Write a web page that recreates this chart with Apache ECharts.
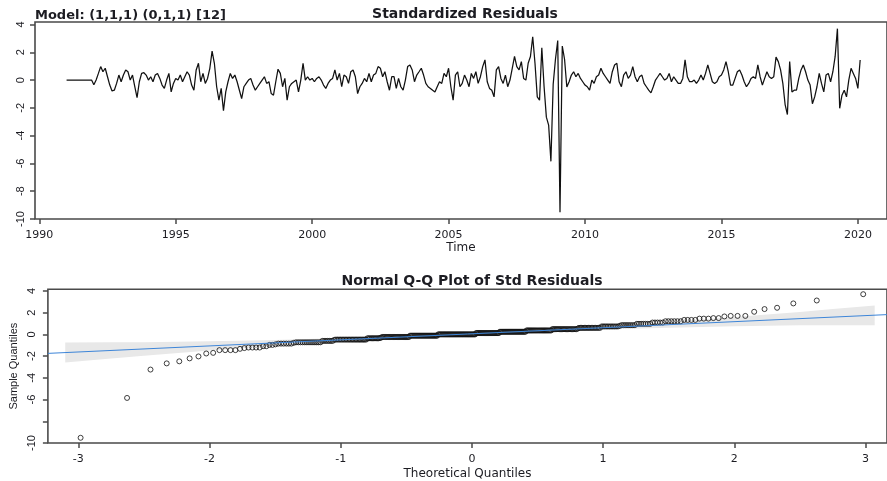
<!DOCTYPE html>
<html>
<head>
<meta charset="utf-8">
<script src="https://cdn.jsdelivr.net/npm/echarts@6/dist/echarts.min.js"></script>
<style>
  html, body { margin: 0; padding: 0; background: #fff; }
  #chart { width: 887px; height: 481px; }
</style>
</head>
<body>
<div id="chart"></div>
<script>
// monthly standardized residuals, Jan 1991 .. Feb 2020 (one row per year)
const startYear = 1991;
const residuals = [
  0, 0, 0, 0, 0, 0, 0, 0, 0, 0, 0, 0,
  -0.34, 0, 0.48, 0.97, 0.6, 0.85, 0.24, -0.36, -0.78, -0.73, -0.24, 0.36,
  -0.12, 0.36, 0.73, 0.6, 0, 0.36, -0.48, -1.26, -0.12, 0.48, 0.53, 0.36,
  0, 0.24, -0.12, 0.36, 0.48, 0.12, -0.36, -0.6, 0, 0.48, -0.85, -0.24,
  0.12, 0, 0.36, -0.12, 0.24, 0.6, 0.36, -0.36, -0.73, 0.73, 1.21, -0.12,
  0.48, -0.24, 0.12, 0.85, 2.08, 1.21, -0.48, -1.45, -0.6, -2.21, -0.85, -0.12,
  0.48, 0.12, 0.36, -0.12, -0.73, -1.33, -0.48, -0.24, 0, 0.12, -0.36, -0.73,
  -0.48, -0.24, 0, 0.24, -0.24, -0.12, -0.97, -1.09, -0.12, 0.78, 0.48, -0.48,
  0.12, -1.45, -0.48, -0.24, -0.12, 0, -0.85, 0, 1.21, 0, 0.24, 0,
  0.12, -0.12, 0.12, 0.24, 0, -0.36, -0.6, -0.24, 0, 0.12, 0.73, 0,
  0.48, -0.48, 0.36, 0.24, -0.24, 0.6, 0.73, 0.24, -0.97, -0.48, -0.24, 0.12,
  -0.12, 0.48, -0.12, 0.36, 0.48, 0.97, 0.85, 0.24, 0.6, -0.12, -0.73, 0.24,
  0.24, -0.6, 0.12, -0.48, -0.73, 0, 0.97, 1.09, 0.73, -0.12, 0.36, 0.6,
  0.85, 0.36, -0.24, -0.48, -0.6, -0.73, -0.85, -0.48, -0.12, -0.24, 0.48, 0.24,
  0.85, -0.48, -1.45, 0.36, 0.6, -0.48, -0.24, 0.36, 0, -0.48, 0.48, 0.12,
  0.6, -0.24, 0.24, 0.97, 1.45, -0.12, -0.6, -0.73, -1.21, 0.73, 0.97, 0.12,
  -0.24, 0.36, -0.48, 0, 0.85, 1.7, 0.97, 0.73, 1.33, 0.12, 0, 1.21,
  1.7, 3.12, 1.21, -1.21, -1.45, 2.33, -0.48, -2.67, -3.24, -5.85, -0.3, 1.5,
  2.85, -9.52, 2.45, 1.5, -0.5, -0.12, 0.36, 0.6, 0.24, 0.48, 0.12, -0.12,
  -0.36, -0.48, -0.73, 0, -0.24, 0.24, 0.36, 0.85, 0.48, 0.24, 0, -0.24,
  0.6, 1.09, 1.21, -0.12, -0.48, 0.36, 0.6, 0.12, 0.36, 0.97, 0.24, -0.12,
  0.24, 0.36, -0.24, -0.48, -0.73, -0.92, -0.48, 0, 0.24, 0.48, 0.24, 0,
  0.12, 0.48, -0.12, 0.24, 0, -0.24, -0.24, 0.12, 1.45, 0.24, -0.12, -0.12,
  0, -0.24, 0, 0.36, 0, 0.48, 1.09, 0.48, -0.12, -0.24, -0.12, 0.24,
  0.36, 0.73, 1.33, 0.6, -0.36, -0.36, 0.12, 0.6, 0.73, 0.36, -0.12, -0.48,
  -0.24, 0.12, 0.24, 0.12, 1.09, 0.24, -0.36, 0.12, 0.6, 0.24, 0.12, 0.24,
  1.65, 1.33, 0.73, -0.24, -1.76, -2.48, 1.33, -0.85, -0.73, -0.73, 0.12, 0.73,
  1.09, 0.6, 0, -0.36, -1.7, -1.21, -0.48, 0.48, -0.24, -0.85, 0.36, 0.48,
  -0.12, 0.6, 1.7, 3.7, -2.03, -1.09, -0.73, -1.21, 0, 0.85, 0.48, 0.12,
  -0.6, 1.45
];

const timeTicks = [1990, 1995, 2000, 2005, 2010, 2015, 2020];
const residTicks = [-10, -8, -6, -4, -2, 0, 2, 4];
const qqXTicks = [-3, -2, -1, 0, 1, 2, 3];
const qqYTicks = [-10, -8, -6, -4, -2, 0, 2, 4];
const qqYLabels = [-10, -6, -4, -2, 0, 2, 4];   // -8 is not labelled in the original

// reference line and grey confidence band
const qqLineX = [-3.232, 3.164];
const qqLineY = [-1.75, 1.82];
const bandX = [-3.1, -2.75, -2.5, -2.0, -1.5, -1.0, 0, 1.0, 1.5, 2.0, 2.5, 2.75, 3.07];
const bandUpper = [-0.75, -0.73, -0.72, -0.64, -0.51, -0.33, 0.15, 0.78, 1.16, 1.59, 2.07, 2.34, 2.66];
const bandLower = [-2.6, -2.23, -1.96, -1.48, -1.05, -0.67, -0.05, 0.44, 0.62, 0.75, 0.83, 0.84, 0.85];

// inverse normal cdf (Acklam), for the theoretical quantiles
function qnorm(p) {
  const a = [-3.969683028665376e+01, 2.209460984245205e+02, -2.759285104469687e+02, 1.383577518672690e+02, -3.066479806614716e+01, 2.506628277459239e+00];
  const b = [-5.447609879822406e+01, 1.615858368580409e+02, -1.556989798598866e+02, 6.680131188771972e+01, -1.328068155288572e+01];
  const c = [-7.784894002430293e-03, -3.223964580411365e-01, -2.400758277161838e+00, -2.549732539343734e+00, 4.374664141464968e+00, 2.938163982698783e+00];
  const d = [7.784695709041462e-03, 3.224671290700398e-01, 2.445134137142996e+00, 3.754408661907416e+00];
  const pl = 0.02425;
  let q, r;
  if (p < pl) {
    q = Math.sqrt(-2 * Math.log(p));
    return (((((c[0] * q + c[1]) * q + c[2]) * q + c[3]) * q + c[4]) * q + c[5]) / ((((d[0] * q + d[1]) * q + d[2]) * q + d[3]) * q + 1);
  }
  if (p > 1 - pl) {
    q = Math.sqrt(-2 * Math.log(1 - p));
    return -(((((c[0] * q + c[1]) * q + c[2]) * q + c[3]) * q + c[4]) * q + c[5]) / ((((d[0] * q + d[1]) * q + d[2]) * q + d[3]) * q + 1);
  }
  q = p - 0.5;
  r = q * q;
  return (((((a[0] * r + a[1]) * r + a[2]) * r + a[3]) * r + a[4]) * r + a[5]) * q / (((((b[0] * r + b[1]) * r + b[2]) * r + b[3]) * r + b[4]) * r + 1);
}

const n = residuals.length;
const sorted = residuals.slice().sort(function (x, y) { return x - y; });
const qqPoints = sorted.map(function (v, i) {
  return [qnorm((i + 0.5) / n), v];
});
const residSeries = residuals.map(function (v, i) {
  return [startYear + i / 12, v];
});

const textColor = '#1c1c22';
const axisColor = '#4a4a4a';
const hFont = 'DejaVu Sans';
const vFont = 'Liberation Sans';

function xAxisOf(gridIndex, min, max, ticks, name, nameGap) {
  return {
    type: 'value', gridIndex: gridIndex, min: min, max: max,
    axisLine: { show: false, onZero: false },
    splitLine: { show: false },
    axisTick: { show: true, customValues: ticks, length: 5, lineStyle: { color: axisColor, width: 1.5 } },
    axisLabel: {
      customValues: ticks, margin: 11, color: textColor, fontFamily: hFont, fontSize: 11,
      formatter: function (v) { return String(v); }
    },
    name: name, nameLocation: 'middle', nameGap: nameGap,
    nameTextStyle: { color: textColor, fontFamily: hFont, fontSize: 12 }
  };
}

function yAxisOf(gridIndex, min, max, ticks, labels, margin, name) {
  return {
    type: 'value', gridIndex: gridIndex, min: min, max: max,
    axisLine: { show: false, onZero: false },
    splitLine: { show: false },
    axisTick: { show: true, customValues: ticks, length: 5, lineStyle: { color: axisColor, width: 1.5 } },
    axisLabel: {
      customValues: labels, rotate: 90, margin: margin, color: textColor, fontFamily: vFont, fontSize: 11,
      formatter: function (v) { return String(v); }
    },
    name: name, nameLocation: 'middle', nameGap: 27,
    nameTextStyle: { color: textColor, fontFamily: vFont, fontSize: 11 }
  };
}

const chart = echarts.init(document.getElementById('chart'));
const option = {
  animation: false,
  backgroundColor: '#fff',
  grid: [
    { left: 35, right: -3, top: 22, bottom: 262, show: true, borderColor: axisColor, borderWidth: 1.6 },
    { left: 46.7, right: -3, top: 289.3, bottom: 37.7, show: true, borderColor: axisColor, borderWidth: 1.6 }
  ],
  xAxis: [
    xAxisOf(0, 1989.843, 2021.067, timeTicks, 'Time', 22),
    xAxisOf(1, -3.232, 3.164, qqXTicks, 'Theoretical Quantiles', 25)
  ],
  yAxis: [
    yAxisOf(0, -10, 4.18, residTicks, residTicks, 9, ''),
    yAxisOf(1, -10, 4.15, qqYTicks, qqYLabels, 10, 'Sample Quantiles')
  ],
  graphic: [
    { type: 'text', x: 35, y: 15.5, style: { text: 'Model: (1,1,1) (0,1,1) [12]', font: 'bold 13px "DejaVu Sans"', fill: textColor, align: 'left', verticalAlign: 'middle', textAlign: 'left', textVerticalAlign: 'middle' } },
    { type: 'text', x: 465, y: 14, style: { text: 'Standardized Residuals', font: 'bold 14px "DejaVu Sans"', fill: textColor, align: 'center', verticalAlign: 'middle', textAlign: 'center', textVerticalAlign: 'middle' } },
    { type: 'text', x: 472, y: 281, style: { text: 'Normal Q-Q Plot of Std Residuals', font: 'bold 14px "DejaVu Sans"', fill: textColor, align: 'center', verticalAlign: 'middle', textAlign: 'center', textVerticalAlign: 'middle' } }
  ],
  series: [
    {
      type: 'line', xAxisIndex: 0, yAxisIndex: 0,
      data: residSeries, showSymbol: false,
      lineStyle: { color: '#111', width: 1.25 }
    },
    {
      type: 'custom', xAxisIndex: 1, yAxisIndex: 1, z: 1,
      data: [[0, 0]],
      renderItem: function (params, api) {
        const pts = [];
        for (let i = 0; i < bandX.length; i++) pts.push(api.coord([bandX[i], bandUpper[i]]));
        for (let i = bandX.length - 1; i >= 0; i--) pts.push(api.coord([bandX[i], bandLower[i]]));
        return { type: 'polygon', shape: { points: pts }, style: { fill: '#e8e8e8', stroke: null } };
      }
    },
    {
      type: 'scatter', xAxisIndex: 1, yAxisIndex: 1, z: 3,
      data: qqPoints, symbol: 'circle', symbolSize: 5,
      itemStyle: { color: 'rgba(0,0,0,0)', borderColor: '#111', borderWidth: 1 }
    },
    {
      type: 'line', xAxisIndex: 1, yAxisIndex: 1, z: 4,
      data: [[qqLineX[0], qqLineY[0]], [qqLineX[1], qqLineY[1]]],
      showSymbol: false,
      lineStyle: { color: '#3d85d8', width: 1 }
    }
  ]
};
chart.setOption(option);
window.addEventListener('resize', function () { chart.resize(); });
</script>
</body>
</html>
